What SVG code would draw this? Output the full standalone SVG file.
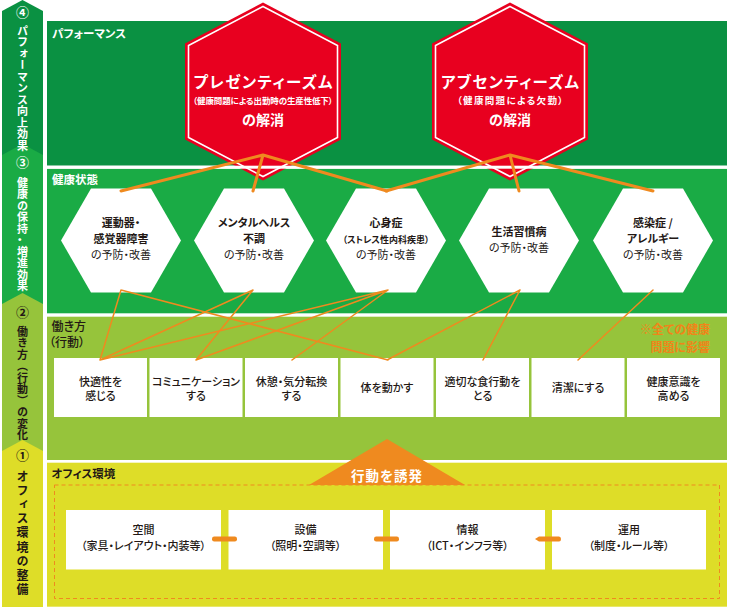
<svg xmlns="http://www.w3.org/2000/svg" width="730" height="610" viewBox="0 0 730 610">
<defs>
<style>
text{font-family:"Noto Sans CJK JP","Noto Sans CJK SC",sans-serif;font-feature-settings:"palt";}
.w{fill:#fff}
.d{fill:#231815}
.o{fill:#f08519}
.b{font-weight:700}
.m{font-weight:500}
.c{text-anchor:middle}
.v{writing-mode:vertical-rl;font-weight:700}
.lt{stroke:#ef8a1f;stroke-width:3;fill:none;stroke-linecap:round}
.ln{stroke:#ef8a1f;stroke-width:1.5;fill:none;stroke-linecap:round}
.box{fill:#fff}
</style>
<path id="hx" d="M-60,0 L-30,-52 L30,-52 L60,0 L30,52 L-30,52 Z" fill="#fff"/>
<g id="rh">
<path d="M0,-89 L78,-48 L78,48 L0,89 L-78,48 L-78,-48 Z" fill="#e8001f"/>
<path d="M0,-85 L74.5,-46 L74.5,46 L0,85 L-74.5,46 L-74.5,-46 Z" fill="none" stroke="#fff" stroke-width="1.6"/>
</g>
</defs>
<rect width="730" height="610" fill="#fff"/>

<g id="sidebar">
<path d="M22.5,0 L43,11 L43,607 L2,607 L2,11 Z" fill="#0a9142"/>
<path d="M22.5,144 L43,155 L43,607 L2,607 L2,155 Z" fill="#1aab45"/>
<path d="M22.5,293 L43,304 L43,607 L2,607 L2,304 Z" fill="#96c43b"/>
<path d="M22.5,440 L43,451 L43,607 L2,607 L2,451 Z" fill="#dedd28"/>
<text class="w b c" x="22.5" y="17" font-size="13">④</text>
<text class="w v" x="22.5" y="25" font-size="11" letter-spacing="0.5">パフォーマンス向上効果</text>
<text class="w b c" x="22.5" y="167" font-size="13">③</text>
<text class="w v" x="22.5" y="177" font-size="11" letter-spacing="0.5">健康の保持・増進効果</text>
<text class="d b c" x="22.5" y="317" font-size="13">②</text>
<text class="d v" x="22.5" y="326" font-size="11" letter-spacing="0.5">働き方（行動）の変化</text>
<text class="d b c" x="22.5" y="460" font-size="13">①</text>
<text class="d v" x="22.5" y="470" font-size="12" letter-spacing="2.2">オフィス環境の整備</text>
</g>

<g id="sections">
<rect x="47" y="21" width="680" height="144.7" fill="#0a9142"/>
<rect x="47" y="168.7" width="680" height="144.6" fill="#1aab45"/>
<rect x="47" y="316.7" width="680" height="143.3" fill="#96c43b"/>
<rect x="47" y="462.7" width="680" height="144" fill="#dedd28"/>
<text class="w b" x="52" y="37.5" font-size="11.5">パフォーマンス</text>
<text class="w b" x="52" y="183.5" font-size="11.5">健康状態</text>
<text class="d m" x="51.5" y="330.5" font-size="12">働き方</text>
<text class="d m" x="49" y="347" font-size="12">（行動）</text>
<text class="d b" x="51.5" y="477.5" font-size="11.5">オフィス環境</text>
<text class="o b" x="710" y="333.5" font-size="12" text-anchor="end">※全ての健康</text>
<text class="o b" x="710" y="351.5" font-size="12" text-anchor="end">問題に影響</text>
<rect x="54.5" y="485" width="665" height="113.5" fill="none" stroke="#ef8a1f" stroke-width="1" stroke-dasharray="4 3"/>
</g>

<g id="node-presenteeism">
<use href="#rh" x="263" y="91.5"/>
<text class="w b c" x="263" y="88" font-size="15.5" textLength="139">プレゼンティーズム</text>
<text class="w b c" x="263" y="103.5" font-size="8.5" textLength="140">（健康問題による出勤時の生産性低下）</text>
<text class="w b c" x="263" y="125" font-size="14">の解消</text>
</g>
<g id="node-absenteeism">
<use href="#rh" x="510" y="91.5"/>
<text class="w b c" x="510" y="88" font-size="15.5" textLength="138">アブセンティーズム</text>
<text class="w b c" x="510" y="104" font-size="9.5" textLength="106">（健康問題による欠勤）</text>
<text class="w b c" x="510" y="125" font-size="14">の解消</text>
</g>
<rect x="47" y="165.7" width="680" height="3" fill="#fff"/>

<g id="node-h1">
<use href="#hx" x="121" y="240.5"/>
<text class="d b c" x="121" y="227" font-size="11">運動器・</text>
<text class="d b c" x="121" y="243" font-size="11">感覚器障害</text>
<text class="d c" x="121" y="258.5" font-size="11">の予防・改善</text>
</g>
<g id="node-h2">
<use href="#hx" x="254" y="240.5"/>
<text class="d b c" x="254" y="227" font-size="11">メンタルヘルス</text>
<text class="d b c" x="254" y="243" font-size="11">不調</text>
<text class="d c" x="254" y="258.5" font-size="11">の予防・改善</text>
</g>
<g id="node-h3">
<use href="#hx" x="386" y="240.5"/>
<text class="d b c" x="386" y="227" font-size="11">心身症</text>
<text class="d b c" x="386" y="243" font-size="9">（ストレス性内科疾患）</text>
<text class="d c" x="386" y="258.5" font-size="11">の予防・改善</text>
</g>
<g id="node-h4">
<use href="#hx" x="519" y="240.5"/>
<text class="d b c" x="519" y="236" font-size="11">生活習慣病</text>
<text class="d c" x="519" y="251.5" font-size="11">の予防・改善</text>
</g>
<g id="node-h5">
<use href="#hx" x="653" y="240.5"/>
<text class="d b c" x="653" y="227" font-size="11">感染症 /</text>
<text class="d b c" x="653" y="243" font-size="11">アレルギー</text>
<text class="d c" x="653" y="258.5" font-size="11">の予防・改善</text>
</g>

<g id="node-w1"><rect class="box" x="54" y="358" width="93" height="59"/>
<text class="d m c" x="100.5" y="385.5" font-size="11">快適性を</text><text class="d m c" x="100.5" y="400" font-size="11">感じる</text></g>
<g id="node-w2"><rect class="box" x="149.5" y="358" width="93" height="59"/>
<text class="d m c" x="196" y="385.5" font-size="11">コミュニケーション</text><text class="d m c" x="196" y="400" font-size="11">する</text></g>
<g id="node-w3"><rect class="box" x="245" y="358" width="93" height="59"/>
<text class="d m c" x="291.5" y="385.5" font-size="11">休憩・気分転換</text><text class="d m c" x="291.5" y="400" font-size="11">する</text></g>
<g id="node-w4"><rect class="box" x="340.5" y="358" width="93" height="59"/>
<text class="d m c" x="387" y="392" font-size="11">体を動かす</text></g>
<g id="node-w5"><rect class="box" x="436" y="358" width="93" height="59"/>
<text class="d m c" x="482.5" y="385.5" font-size="11">適切な食行動を</text><text class="d m c" x="482.5" y="400" font-size="11">とる</text></g>
<g id="node-w6"><rect class="box" x="531.5" y="358" width="93" height="59"/>
<text class="d m c" x="578" y="392" font-size="11">清潔にする</text></g>
<g id="node-w7"><rect class="box" x="627" y="358" width="93" height="59"/>
<text class="d m c" x="673.5" y="385.5" font-size="11">健康意識を</text><text class="d m c" x="673.5" y="400" font-size="11">高める</text></g>

<g id="node-trigger">
<path d="M387,439 L465,485 L309,485 Z" fill="#ef8a1f"/>
<text class="w b c" x="387" y="481" font-size="13.5" letter-spacing="1">行動を誘発</text>
</g>

<g id="node-o1"><rect class="box" x="66" y="510" width="155" height="59.5"/>
<text class="d m c" x="143.5" y="534" font-size="11">空間</text><text class="d m c" x="143.5" y="550" font-size="11">（家具・レイアウト・内装等）</text></g>
<g id="node-o2"><rect class="box" x="228.5" y="510" width="154.5" height="59.5"/>
<text class="d m c" x="305.5" y="534" font-size="11">設備</text><text class="d m c" x="305.5" y="550" font-size="11">（照明・空調等）</text></g>
<g id="node-o3"><rect class="box" x="390" y="510" width="155" height="59.5"/>
<text class="d m c" x="467.5" y="534" font-size="11">情報</text><text class="d m c" x="467.5" y="550" font-size="11">（ICT・インフラ等）</text></g>
<g id="node-o4"><rect class="box" x="552" y="510" width="154" height="59.5"/>
<text class="d m c" x="629" y="534" font-size="11">運用</text><text class="d m c" x="629" y="550" font-size="11">（制度・ルール等）</text></g>

<g id="connectors">
<rect x="212" y="536.5" width="25" height="5" rx="2.2" fill="#ef8a1f"/>
<rect x="374" y="536.5" width="25" height="5" rx="2.2" fill="#ef8a1f"/>
<path d="M535,539 L539,536.5 L559,536.5 Q561,536.5 561,539 Q561,541.5 559,541.5 L539,541.5 Z" fill="#ef8a1f"/>
<path class="lt" d="M263,155 L121,191 M263,155 L253,191 M263,155 L387,191"/>
<path class="lt" d="M510,155 L386,191 M510,155 L519,191 M510,155 L653,191"/>
<path class="ln" d="M121,290 L100,360 M121,290 L388,360 M253,290 L100,360 M253,290 L196,360 M388,290 L100,360 M388,290 L196,360 M388,290 L292,360 M520,290 L387,360 M520,290 L483,360 M653,290 L578,360"/>
</g>
</svg>
